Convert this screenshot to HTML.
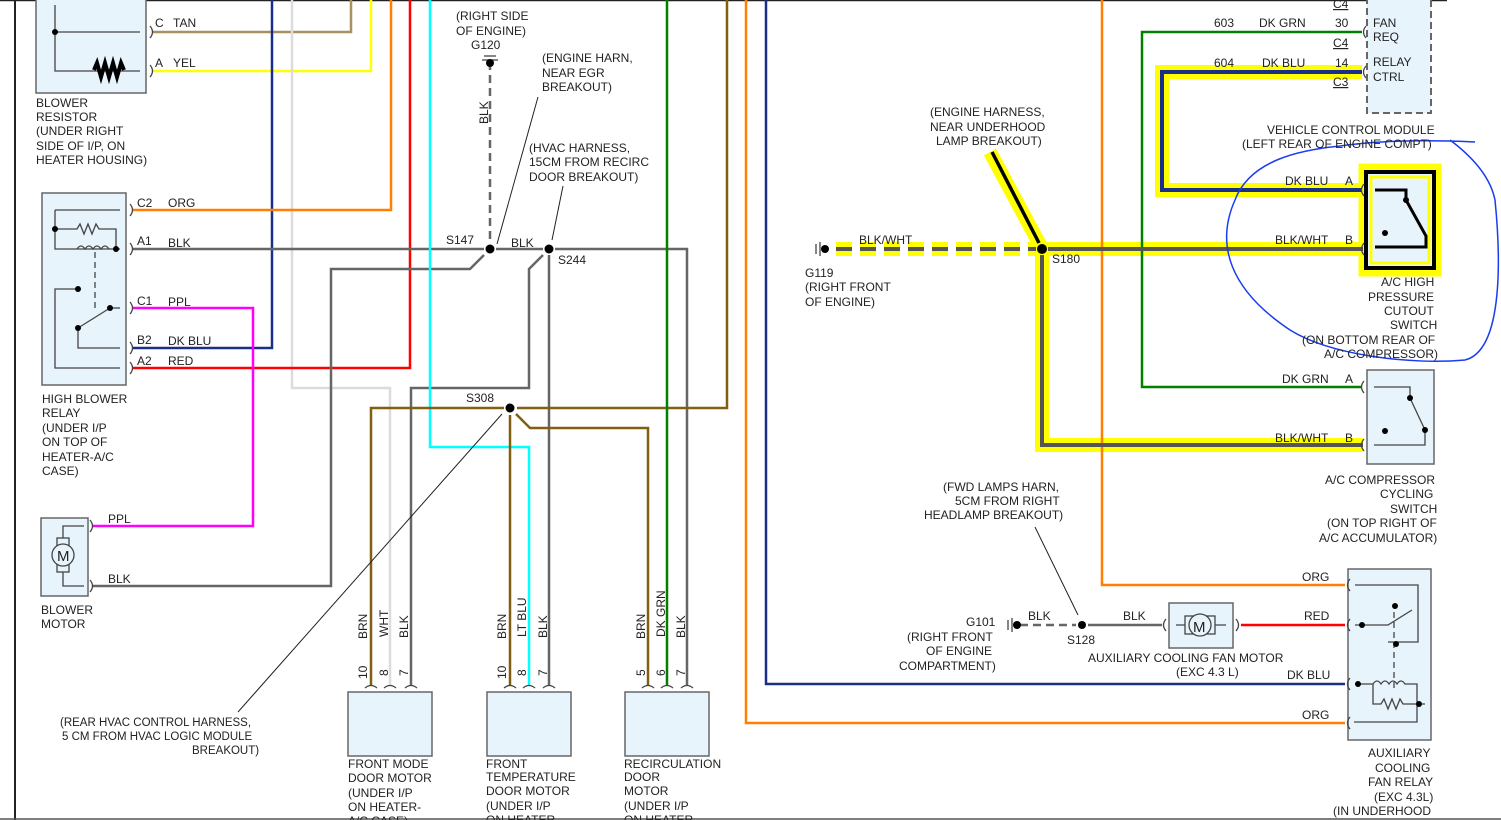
<!DOCTYPE html>
<html><head><meta charset="utf-8"><style>
html,body{margin:0;padding:0;background:#fff;}
svg{display:block;}
text{font-family:"Liberation Sans",sans-serif;font-size:12px;fill:#222;}
.s{font-size:11.5px;}
</style></head><body>
<svg width="1501" height="820" viewBox="0 0 1501 820" xmlns="http://www.w3.org/2000/svg">
<g fill="none" stroke-linecap="butt" stroke-linejoin="miter">
<line x1="0" y1="0.5" x2="1447" y2="0.5" stroke="#222" stroke-width="1.5"/>
<line x1="15" y1="0" x2="15" y2="820" stroke="#222" stroke-width="2"/>
<line x1="0" y1="819" x2="1501" y2="819" stroke="#555" stroke-width="1.5"/>

<g stroke="#ffff00" stroke-width="14">
<polyline points="1362,72 1162,72 1162,190 1362,190"/>
<line x1="836" y1="249" x2="1042" y2="249" stroke-dasharray="16,8"/>
<line x1="1042" y1="249" x2="1363" y2="249"/>
<polyline points="1042,249 1042,445 1363,445"/>
<line x1="990" y1="152" x2="1040" y2="245"/>
<rect x="1363" y="168" width="74" height="104" stroke-width="9"/>
</g>

<polyline points="152,32 351,32 351,0" stroke="#a89060" stroke-width="2.5"/>
<polyline points="152,71 371,71 371,0" stroke="#ffff00" stroke-width="2.5"/>
<polyline points="272,0 272,348 132,348" stroke="#1a2f8a" stroke-width="2.5"/>
<polyline points="292,0 292,388 390,388 390,685" stroke="#dcdcdc" stroke-width="2.5"/>
<polyline points="391,0 391,210 132,210" stroke="#ff8000" stroke-width="2.5"/>
<polyline points="410,0 410,368 132,368" stroke="#ff0000" stroke-width="2.5"/>
<line x1="132" y1="249" x2="484" y2="249" stroke="#666" stroke-width="2.5"/>
<polyline points="132,308 253,308 253,526 92,526" stroke="#ff00ff" stroke-width="2.5"/>
<polyline points="92,586 331,586 331,269 470,269 484,255" stroke="#666" stroke-width="2.5"/>
<line x1="496" y1="249" x2="543" y2="249" stroke="#666" stroke-width="2.5"/>
<polyline points="555,249 687,249 687,685" stroke="#666" stroke-width="2.5"/>
<polyline points="543,255 529,269 529,388 411,388 411,685" stroke="#666" stroke-width="2.5"/>
<line x1="549" y1="255" x2="549" y2="685" stroke="#666" stroke-width="2.5"/>
<line x1="490" y1="62" x2="490" y2="244" stroke="#666" stroke-width="2.5" stroke-dasharray="8,5"/>
<polyline points="430,0 430,447 529,447 529,685" stroke="#00ffff" stroke-width="2.5"/>
<polyline points="504,408 371,408 371,685" stroke="#806010" stroke-width="2.5"/>
<polyline points="517,408 727,408 727,0" stroke="#806010" stroke-width="2.5"/>
<line x1="510" y1="415" x2="510" y2="685" stroke="#806010" stroke-width="2.5"/>
<polyline points="516,414 530,428 648,428 648,685" stroke="#806010" stroke-width="2.5"/>
<line x1="667" y1="0" x2="667" y2="685" stroke="#008000" stroke-width="2.5"/>
<polyline points="746,0 746,723 1345,723" stroke="#ff8000" stroke-width="2.5"/>
<polyline points="766,0 766,684 1345,684" stroke="#1a2f8a" stroke-width="2.5"/>
<polyline points="1102,0 1102,585 1345,585" stroke="#ff8000" stroke-width="2.5"/>

<polyline points="1362,32 1142,32 1142,387 1362,387" stroke="#008000" stroke-width="2.5"/>
<polyline points="1362,72 1162,72 1162,190 1362,190" stroke="#1a2f8a" stroke-width="4"/>
<line x1="836" y1="249" x2="1036" y2="249" stroke="#555" stroke-width="4" stroke-dasharray="16,8"/>
<line x1="1048" y1="249" x2="1363" y2="249" stroke="#555" stroke-width="4"/>
<polyline points="1042,255 1042,445 1363,445" stroke="#555" stroke-width="4"/>
<line x1="992" y1="152" x2="1039" y2="243" stroke="#000" stroke-width="3.5"/>
<line x1="1020" y1="625" x2="1076" y2="625" stroke="#666" stroke-width="2.5" stroke-dasharray="8,5"/>
<line x1="1088" y1="625" x2="1162" y2="625" stroke="#666" stroke-width="2.5"/>
<line x1="1241" y1="625" x2="1345" y2="625" stroke="#ff0000" stroke-width="2.5"/>

<g fill="#e8f4fc" stroke="#666" stroke-width="1.5">
<rect x="36" y="-2" width="110" height="95"/>
<rect x="42" y="193" width="84" height="192"/>
<rect x="41" y="518" width="47" height="78"/>
<rect x="348" y="692" width="84" height="64"/>
<rect x="487" y="692" width="84" height="64"/>
<rect x="625" y="692" width="84" height="64"/>
<rect x="1367" y="-2" width="64" height="115" stroke-dasharray="7,4" stroke-width="2"/>
<rect x="1367" y="370" width="67" height="94"/>
<rect x="1348" y="569" width="83" height="171"/>
<rect x="1169" y="603" width="64" height="45"/>
</g>
<rect x="1366" y="172" width="68" height="96" fill="#e8f4fc" stroke="#000" stroke-width="4"/>
<rect x="1371" y="177" width="58" height="86" fill="none" stroke="#ffff00" stroke-width="3"/>

<g stroke="#444" stroke-width="1.3">
<polyline points="55,5 55,71 140,71"/><line x1="55" y1="32" x2="140" y2="32"/>
<polyline points="55,210 120,210"/><polyline points="55,210 55,249 120,249"/>
<path d="M55,229 h22 l3,-5 l4,10 l4,-10 l4,10 l4,-10 l3,5 h17 v20"/>
<path d="M77,249 q4,-6 8,0 q4,-6 8,0 q4,-6 8,0 q4,-6 8,0"/>
<line x1="95" y1="252" x2="95" y2="310" stroke-dasharray="6,4"/>
<polyline points="78,289 55,289 55,368 120,368"/>
<line x1="78" y1="328" x2="110" y2="308"/><line x1="110" y1="308" x2="120" y2="308"/>
<polyline points="78,328 78,348 120,348"/>
<polyline points="63,544 63,526 84,526"/><polyline points="63,566 63,586 84,586"/>
<rect x="57" y="538" width="12" height="34" fill="#e8f4fc"/>
<circle cx="63" cy="555" r="11" fill="#e8f4fc"/>
<polyline points="1374,387 1410,387 1410,398 1425,430 1425,445 1374,445"/>
<polyline points="1355,585 1418,585 1418,642 1388,642"/>
<polyline points="1355,625 1388,625 1412,610"/>
<line x1="1394" y1="612" x2="1394" y2="690" stroke-dasharray="6,4"/>
<path d="M1355,684 h18 q4,-6 8,0 q4,-6 8,0 q4,-6 8,0 q4,-6 8,0 h12 v38 h-63"/>
<path d="M1373,684 v20 h8 l3,-5 l4,10 l4,-10 l4,10 l4,-10 l3,5 h22"/>
<line x1="1176" y1="625" x2="1226" y2="625"/>
<rect x="1185" y="616" width="30" height="18" fill="#e8f4fc"/>
<circle cx="1200" cy="625" r="11" fill="#e8f4fc"/>
</g>
<polyline points="1375,190 1406,190 1406,200 1426,236 1426,247 1375,247" stroke="#000" stroke-width="3"/>
<path d="M94,70 l3,-7 l4,14 l4,-14 l4,14 l4,-14 l4,14 l4,-14 l3,7" stroke="#000" stroke-width="4"/>
<g stroke="#444" stroke-width="1.3">
<path d="M150,26 q5,6 0,12 M150,65 q5,6 0,12 M130,204 q5,6 0,12 M130,243 q5,6 0,12 M130,302 q5,6 0,12 M130,342 q5,6 0,12 M130,362 q5,6 0,12 M90,520 q5,6 0,12 M90,580 q5,6 0,12"/>
<path d="M1366,26 q-5,6 0,12 M1366,66 q-5,6 0,12 M1364,184 q-5,6 0,12 M1364,243 q-5,6 0,12 M1364,381 q-5,6 0,12 M1364,439 q-5,6 0,12 M1350,579 q-5,6 0,12 M1350,619 q-5,6 0,12 M1350,678 q-5,6 0,12 M1350,717 q-5,6 0,12 M1166,619 q-5,6 0,12 M1236,619 q5,6 0,12"/>
<path d="M365,688 q6,-5 12,0 M384,688 q6,-5 12,0 M405,688 q6,-5 12,0 M504,688 q6,-5 12,0 M523,688 q6,-5 12,0 M543,688 q6,-5 12,0 M642,688 q6,-5 12,0 M661,688 q6,-5 12,0 M681,688 q6,-5 12,0"/>
</g>
<g stroke="#222" stroke-width="1">
<line x1="538" y1="97" x2="497" y2="244"/><line x1="563" y1="186" x2="552" y2="240"/>
<line x1="238" y1="712" x2="502" y2="414"/><line x1="1035" y1="527" x2="1078" y2="615"/>
</g>
<g stroke="#444" stroke-width="1.3"><line x1="484" y1="56" x2="496" y2="56"/><line x1="482" y1="60" x2="498" y2="60"/>
<line x1="816" y1="244" x2="816" y2="254"/><line x1="820" y1="242" x2="820" y2="256"/>
<line x1="1008" y1="620" x2="1008" y2="630"/><line x1="1012" y1="618" x2="1012" y2="632"/></g>
<path d="M1475,142 C1430,140 1380,140 1340,146 C1300,150 1250,160 1235,200 C1215,245 1230,290 1290,330 C1330,355 1410,365 1465,360 C1505,350 1500,250 1495,200 C1490,175 1470,155 1450,140" stroke="#1a3cf0" stroke-width="1.5"/>
</g>
<g fill="#000">
<circle cx="490" cy="249" r="4.5"/><circle cx="549" cy="249" r="4.5"/><circle cx="510" cy="408" r="4.5"/>
<circle cx="490" cy="63" r="4"/><circle cx="825" cy="249" r="4"/><circle cx="1017" cy="625" r="4"/>
<circle cx="1042" cy="249" r="5"/><circle cx="1082" cy="625" r="4"/>
<circle cx="55" cy="32" r="3"/><circle cx="55" cy="229" r="3"/><circle cx="116" cy="249" r="3"/>
<circle cx="78" cy="289" r="3"/><circle cx="110" cy="308" r="3"/><circle cx="78" cy="328" r="3"/>
<circle cx="1406" cy="200" r="3"/><circle cx="1385" cy="233" r="3"/>
<circle cx="1410" cy="398" r="3"/><circle cx="1425" cy="430" r="3"/><circle cx="1385" cy="431" r="3"/>
<circle cx="1395" cy="606" r="3"/><circle cx="1362" cy="625" r="3"/><circle cx="1396" cy="644" r="3"/>
<circle cx="1358" cy="684" r="3"/><circle cx="1419" cy="704" r="3"/>
</g>
<text x="155" y="27">C</text><text x="173" y="27">TAN</text>
<text x="155" y="67">A</text><text x="173" y="67">YEL</text>
<text x="36" y="107">BLOWER</text><text x="36" y="121">RESISTOR</text><text x="36" y="135">(UNDER RIGHT</text><text x="36" y="150">SIDE OF I/P, ON</text><text x="36" y="164">HEATER HOUSING)</text>
<text x="137" y="207">C2</text><text x="168" y="207">ORG</text>
<text x="137" y="245">A1</text><text x="168" y="247">BLK</text>
<text x="137" y="305">C1</text><text x="168" y="306">PPL</text>
<text x="137" y="344">B2</text><text x="168" y="345">DK BLU</text>
<text x="137" y="365">A2</text><text x="168" y="365">RED</text>
<text x="42" y="403">HIGH BLOWER</text><text x="42" y="417">RELAY</text><text x="42" y="432">(UNDER I/P</text><text x="42" y="446">ON TOP OF</text><text x="42" y="461">HEATER-A/C</text><text x="42" y="475">CASE)</text>
<text x="108" y="523">PPL</text><text x="108" y="583">BLK</text>
<text x="57" y="561" style="font-size:15px">M</text>
<text x="41" y="614">BLOWER</text><text x="41" y="628">MOTOR</text>
<text x="60" y="726" class="s">(REAR HVAC CONTROL HARNESS,</text><text x="62" y="740" class="s">5 CM FROM HVAC LOGIC MODULE</text><text x="192" y="754" class="s">BREAKOUT)</text>
<text x="456" y="20">(RIGHT SIDE</text><text x="456" y="35">OF ENGINE)</text><text x="471" y="49">G120</text>
<text x="542" y="62">(ENGINE HARN,</text><text x="542" y="77">NEAR EGR</text><text x="542" y="91">BREAKOUT)</text>
<text x="529" y="152">(HVAC HARNESS,</text><text x="529" y="166">15CM FROM RECIRC</text><text x="529" y="181">DOOR BREAKOUT)</text>
<text transform="translate(488,124) rotate(-90)">BLK</text>
<text x="446" y="244">S147</text><text x="511" y="247">BLK</text><text x="558" y="264">S244</text><text x="466" y="402">S308</text>
<g>
<text transform="translate(367,639) rotate(-90)">BRN</text><text transform="translate(388,637) rotate(-90)">WHT</text><text transform="translate(408,638) rotate(-90)">BLK</text>
<text transform="translate(506,639) rotate(-90)">BRN</text><text transform="translate(526,637) rotate(-90)">LT BLU</text><text transform="translate(547,638) rotate(-90)">BLK</text>
<text transform="translate(645,639) rotate(-90)">BRN</text><text transform="translate(665,637) rotate(-90)">DK GRN</text><text transform="translate(685,638) rotate(-90)">BLK</text>
<text transform="translate(367,679) rotate(-90)">10</text><text transform="translate(388,676) rotate(-90)">8</text><text transform="translate(408,676) rotate(-90)">7</text>
<text transform="translate(506,679) rotate(-90)">10</text><text transform="translate(526,676) rotate(-90)">8</text><text transform="translate(547,676) rotate(-90)">7</text>
<text transform="translate(645,676) rotate(-90)">5</text><text transform="translate(665,676) rotate(-90)">6</text><text transform="translate(685,676) rotate(-90)">7</text>
</g>
<text x="348" y="768">FRONT MODE</text><text x="348" y="782">DOOR MOTOR</text><text x="348" y="797">(UNDER I/P</text><text x="348" y="811">ON HEATER-</text><text x="348" y="825">A/C CASE)</text>
<text x="486" y="768">FRONT</text><text x="486" y="781">TEMPERATURE</text><text x="486" y="795">DOOR MOTOR</text><text x="486" y="810">(UNDER I/P</text><text x="486" y="824">ON HEATER</text>
<text x="624" y="768">RECIRCULATION</text><text x="624" y="781">DOOR</text><text x="624" y="795">MOTOR</text><text x="624" y="810">(UNDER I/P</text><text x="624" y="824">ON HEATER</text>
<text x="930" y="116">(ENGINE HARNESS,</text><text x="930" y="131">NEAR UNDERHOOD</text><text x="936" y="145">LAMP BREAKOUT)</text>
<text x="859" y="244">BLK/WHT</text><text x="1052" y="263">S180</text>
<text x="805" y="277">G119</text><text x="805" y="291">(RIGHT FRONT</text><text x="805" y="306">OF ENGINE)</text>
<text x="1214" y="27">603</text><text x="1259" y="27">DK GRN</text><text x="1335" y="27">30</text>
<text x="1214" y="67">604</text><text x="1262" y="67">DK BLU</text><text x="1335" y="67">14</text>
<text x="1333" y="47" text-decoration="underline">C4</text><text x="1333" y="86" text-decoration="underline">C3</text><text x="1333" y="8" text-decoration="underline">C4</text>
<text x="1373" y="27">FAN</text><text x="1373" y="41">REQ</text><text x="1373" y="66">RELAY</text><text x="1373" y="81">CTRL</text>
<text x="1267" y="134">VEHICLE CONTROL MODULE</text><text x="1242" y="148">(LEFT REAR OF ENGINE COMPT)</text>
<text x="1285" y="185">DK BLU</text><text x="1345" y="185">A</text>
<text x="1275" y="244">BLK/WHT</text><text x="1345" y="244">B</text>
<text x="1381" y="286">A/C HIGH</text><text x="1368" y="301">PRESSURE</text><text x="1384" y="315">CUTOUT</text><text x="1390" y="329">SWITCH</text>
<text x="1302" y="344">(ON BOTTOM REAR OF</text><text x="1324" y="358">A/C COMPRESSOR)</text>
<text x="1282" y="383">DK GRN</text><text x="1345" y="383">A</text>
<text x="1275" y="442">BLK/WHT</text><text x="1345" y="442">B</text>
<text x="1325" y="484">A/C COMPRESSOR</text><text x="1380" y="498">CYCLING</text><text x="1390" y="513">SWITCH</text><text x="1327" y="527">(ON TOP RIGHT OF</text><text x="1319" y="542">A/C ACCUMULATOR)</text>
<text x="943" y="491">(FWD LAMPS HARN,</text><text x="955" y="505">5CM FROM RIGHT</text><text x="924" y="519">HEADLAMP BREAKOUT)</text>
<text x="966" y="626">G101</text><text x="907" y="641">(RIGHT FRONT</text><text x="926" y="655">OF ENGINE</text><text x="899" y="670">COMPARTMENT)</text>
<text x="1028" y="620">BLK</text><text x="1123" y="620">BLK</text><text x="1067" y="644">S128</text>
<text x="1193" y="632" style="font-size:15px">M</text>
<text x="1088" y="662">AUXILIARY COOLING FAN MOTOR</text><text x="1176" y="676">(EXC 4.3 L)</text>
<text x="1302" y="581">ORG</text><text x="1304" y="620">RED</text><text x="1287" y="679">DK BLU</text><text x="1302" y="719">ORG</text>
<text x="1368" y="757">AUXILIARY</text><text x="1375" y="772">COOLING</text><text x="1368" y="786">FAN RELAY</text><text x="1374" y="801">(EXC 4.3L)</text><text x="1333" y="815">(IN UNDERHOOD</text>
</svg>
</body></html>
